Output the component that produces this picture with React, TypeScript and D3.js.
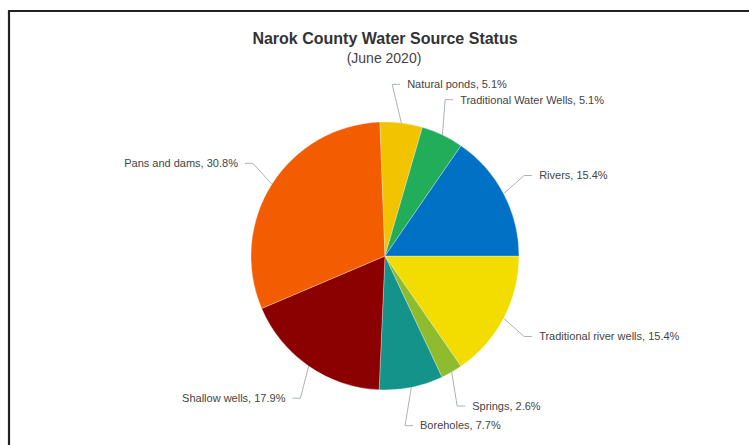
import React from "react";
import * as d3 from "d3";

const categories = [
  "Traditional river wells",
  "Springs",
  "Boreholes",
  "Shallow wells",
  "Pans and dams",
  "Natural ponds",
  "Traditional Water Wells",
  "Rivers",
];
const values = [15.4, 2.6, 7.7, 17.9, 30.8, 5.1, 5.1, 15.4];
const colors = [
  "#f3dd00",
  "#8fbc2f",
  "#14938a",
  "#8b0000",
  "#f45c02",
  "#f2c300",
  "#22ad5a",
  "#0071c5",
];

const W = 749;
const H = 445;
const cx = 385;
const cy = 256;
const r = 134;
const labelR = 173;

export default function App() {
  const data = categories.map((c, i) => ({ name: c, value: values[i], color: colors[i] }));
  const pie = d3
    .pie<any>()
    .sort(null)
    .value((d) => d.value)
    .startAngle(Math.PI / 2)
    .endAngle(Math.PI / 2 + 2 * Math.PI);
  const arcs = pie(data);
  const arc = d3.arc<any>().innerRadius(0).outerRadius(r);

  return (
    <svg
      width={W}
      height={H}
      style={{ position: "absolute", left: 0, top: 0, fontFamily: "'Liberation Sans', Arial, sans-serif" }}
    >
      <rect x={0} y={0} width={W} height={H} fill="#fff" />
      <path d={`M9,${H} L9,11 L${W},11`} fill="none" stroke="#222" strokeWidth={2.2} />
      <text x={385} y={44} textAnchor="middle" fontSize={16} fontWeight="bold" fill="#333">
        Narok County Water Source Status
      </text>
      <text x={384} y={63} textAnchor="middle" fontSize={14} fill="#444">
        (June 2020)
      </text>
      <g transform={`translate(${cx},${cy})`}>
        {arcs.map((a, i) => (
          <path key={i} d={arc(a) as string} fill={a.data.color} stroke="#fff" strokeWidth={0.3} />
        ))}
        {arcs.map((a, i) => {
          const mid = (a.startAngle + a.endAngle) / 2;
          const sx = Math.sin(mid);
          const sy = -Math.cos(mid);
          const ex = sx * r;
          const ey = sy * r;
          const ax = sx * labelR;
          const ay = sy * labelR;
          const right = sx >= 0;
          const dir = right ? 1 : -1;
          const elbowX = ax - dir * 14;
          const endX = ax - dir * 6;
          return (
            <g key={"l" + i}>
              <path
                d={`M${ex},${ey} L${elbowX},${ay} L${endX},${ay}`}
                fill="none"
                stroke="#a9b3ba"
                strokeWidth={1}
              />
              <text
                x={ax + dir * 1}
                y={ay}
                dy="0.35em"
                textAnchor={right ? "start" : "end"}
                fontSize={11}
                fill="#444"
              >
                {`${a.data.name}, ${a.data.value}%`}
              </text>
            </g>
          );
        })}
      </g>
    </svg>
  );
}
